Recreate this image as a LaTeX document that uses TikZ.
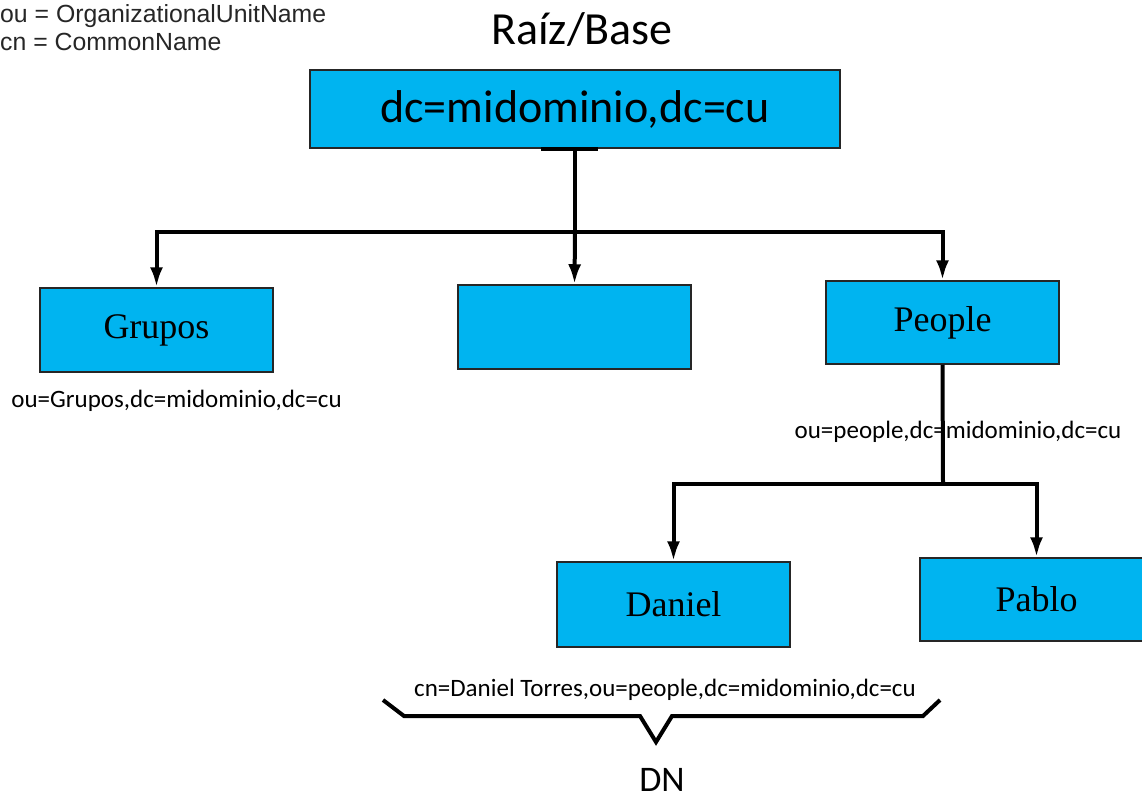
\documentclass[tikz,border=0pt]{standalone}
\usepackage{fontspec}
\setmainfont{Carlito}
\newfontfamily\entryfont{Liberation Serif}
\newfontfamily\legendfont{Liberation Sans}
\usepackage{xcolor}
\usetikzlibrary{arrows.meta, positioning}
\definecolor{ldapblue}{RGB}{0,180,240}

\begin{document}
\begin{tikzpicture}[
  x = 1pt, y = -1pt,
  entry/.style  = {rectangle, draw=black!85, line width=1.5pt, fill=ldapblue,
                   minimum width=233pt, minimum height=84pt, inner sep=0pt,
                   font=\entryfont\fontsize{36}{40}\selectfont},
  rootbox/.style = {rectangle, draw=black!85, line width=1.5pt, fill=ldapblue,
                   minimum width=530pt, minimum height=78pt, inner sep=0pt,
                   font=\fontsize{46}{50}\selectfont},
  dnlabel/.style = {font=\fontsize{25}{30}\selectfont, inner sep=0pt},
  legend/.style  = {font=\legendfont\fontsize{24.8}{28}\selectfont, text=black!85,
                   align=left, inner sep=0pt},
  arr/.style    = {-{Latex[length=20pt, width=13pt]}, line width=4pt},
  link/.style   = {line width=4pt},
]
\clip (0,0) rectangle (1142,800);

%% ── Legend and title ────────────────────────────────────────────────────
\node[legend, anchor=north west] (legend) at (0,4)
     {ou = OrganizationalUnitName\\cn = CommonName};
\node[font=\fontsize{46}{50}\selectfont, inner sep=0pt] (title) at (582,30) {Raíz/Base};

%% ── Entries ─────────────────────────────────────────────────────────────
\node[rootbox]                   (root)   at (575,109)   {dc=midominio,dc=cu};
\node[entry]                     (grupos) at (156.5,330) {Grupos};
\node[entry]                     (blank)  at (574.5,327) {};
\node[entry, minimum height=83pt](people) at (942.5,322.5) {People};
\node[entry, minimum height=85pt](daniel) at (673.5,604.5) {Daniel};
\node[entry, minimum height=83pt](pablo)  at (1036.5,599.5) {Pablo};

%% ── DN labels ───────────────────────────────────────────────────────────
\node[dnlabel, below=28pt of grupos.south west, anchor=west, xshift=-28pt] (dngrupos)
     {ou=Grupos,dc=midominio,dc=cu};
\node[dnlabel] (dnpeople) at (958,432) {ou=people,dc=midominio,dc=cu};
\node[dnlabel] (dndaniel) at (665,690) {cn=Daniel Torres,ou=people,dc=midominio,dc=cu};
\node[font=\fontsize{36}{40}\selectfont, inner sep=0pt] (dn) at (662,780) {DN};

%% ── Tree connectors ─────────────────────────────────────────────────────
\coordinate (bus)  at (575,232);
\coordinate (pbus) at (943,484);
\draw[link] ([xshift=-34pt]root.south) -- ([xshift=23pt]root.south);
\draw[link] (root.south) -- (bus);
\draw[arr]  (bus) -| (grupos.north);
\draw[arr]  (bus) -- (blank.north);
\draw[arr]  (bus) -| (people.north);
\draw[link] (people.south) -- (pbus);
\draw[arr]  (pbus) -| (daniel.north);
\draw[arr]  (pbus) -| (pablo.north);

%% ── Brace under the full DN ─────────────────────────────────────────────
\draw[link, line join=miter]
  (383,700) -- (404,716) -- (640,716) -- (656,742) -- (672,716) -- (923,716) -- (940,700);

\end{tikzpicture}
\end{document}
